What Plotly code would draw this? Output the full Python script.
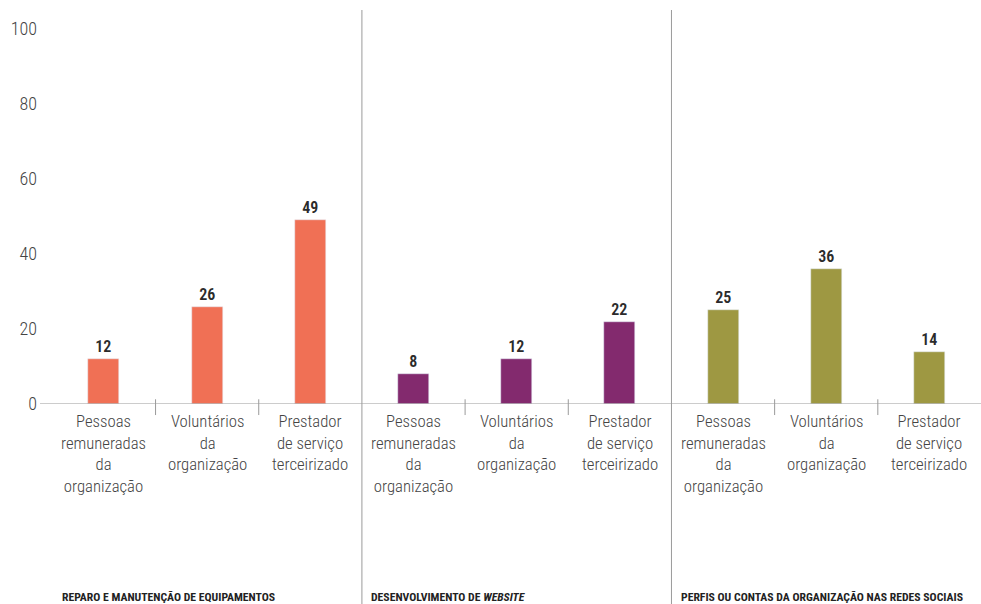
import plotly.graph_objects as go

# Survey shares (%) by who carries out each activity
groups = ["REPARO E MANUTENÇÃO DE EQUIPAMENTOS",
          "DESENVOLVIMENTO DE <i>WEBSITE</i>",
          "PERFIS OU CONTAS DA ORGANIZAÇÃO NAS REDES SOCIAIS"]
categories = ["Pessoas<br>remuneradas<br>da<br>organização",
              "Voluntários<br>da<br>organização",
              "Prestador<br>de serviço<br>terceirizado"]
values = [
    [12, 26, 49],
    [8, 12, 22],
    [25, 36, 14],
]
colors = ["#F07055", "#832A6E", "#9E9842"]
y_ticks = [0, 20, 40, 60, 80, 100]

FONT = "Roboto Condensed, Liberation Sans Narrow, Roboto, sans-serif"

fig = go.Figure()
n_cat = len(categories)
for g, (grp_vals, col) in enumerate(zip(values, colors)):
    xs = [g * n_cat + i for i in range(n_cat)]
    fig.add_trace(go.Bar(
        x=xs, y=grp_vals, width=0.3, marker_color=col,
        text=[str(v) for v in grp_vals], textposition="outside",
        textfont=dict(family=FONT, size=16, color="#2b2b2b", weight=600),
        cliponaxis=False, hoverinfo="skip", showlegend=False,
    ))
    for i, cat in enumerate(categories):
        fig.add_annotation(
            x=g * n_cat + i, y=-0.016, xref="x", yref="paper",
            text=cat, showarrow=False, yanchor="top", xanchor="center",
            font=dict(family=FONT, size=16.7, color="#444444", weight=300),
            align="center",
        )
    # group title at the bottom
    fig.add_annotation(
        x=g * n_cat - 0.43, y=-0.49, xref="x", yref="paper",
        text="<b>" + groups[g] + "</b>", showarrow=False,
        xanchor="left", yanchor="middle",
        font=dict(family=FONT, size=11.7, color="#222222"),
    )

total = n_cat * len(groups)
# full-height separators between groups
for k in range(1, len(groups)):
    fig.add_shape(type="line", xref="x", yref="paper",
                  x0=k * n_cat - 0.5, x1=k * n_cat - 0.5, y0=-0.51, y1=1,
                  line=dict(color="#9a9a9a", width=1))
# short ticks between categories inside a group
for g in range(len(groups)):
    for i in range(1, n_cat):
        xv = g * n_cat + i - 0.5
        fig.add_shape(type="line", xref="x", yref="paper",
                      x0=xv, x1=xv, y0=-0.028, y1=0.012,
                      line=dict(color="#9a9a9a", width=1))
# baseline
fig.add_shape(type="line", xref="paper", yref="y", x0=0, x1=1, y0=0, y1=0,
              line=dict(color="#9a9a9a", width=1.2))

fig.update_layout(
    width=981, height=604,
    margin=dict(l=40, r=0, t=10, b=200),
    paper_bgcolor="white", plot_bgcolor="white",
    bargap=0,
    xaxis=dict(range=[-0.62, total - 0.5], showgrid=False, zeroline=False,
               showticklabels=False, ticks="", fixedrange=True),
    yaxis=dict(range=[0, 105.07], tickvals=y_ticks, showgrid=False,
               zeroline=False, ticks="", showline=False,
               tickfont=dict(family=FONT, size=18, color="#444444", weight=300),
               ticklabelstandoff=2, fixedrange=True),
)

fig.write_html("out.html")
